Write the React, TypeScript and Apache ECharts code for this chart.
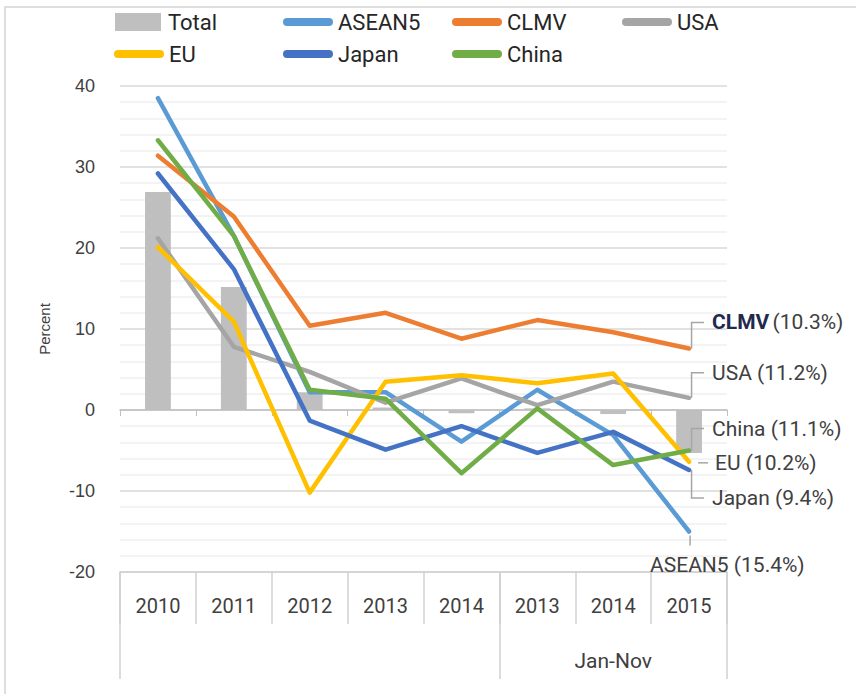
import React, { useEffect, useRef } from 'react';
import * as echarts from 'echarts';

// ---------- data ----------
const categories = ['2010', '2011', '2012', '2013', '2014', '2013', '2014', '2015'];
const groupLabel = 'Jan-Nov';
const groupBounds = [0, 5, 8];
const groupLabelAt = [6.5];
const yTicks = [-20, -10, 0, 10, 20, 30, 40];

const total = [26.9, 15.2, 2.2, 0.3, -0.4, 0.2, -0.5, -5.3];
const asean5 = [38.5, 21.5, 2.2, 2.2, -3.9, 2.5, -3.1, -15.0];
const clmv = [31.4, 23.9, 10.4, 12.0, 8.8, 11.1, 9.6, 7.6];
const usa = [21.2, 7.8, 4.7, 0.9, 3.9, 0.6, 3.5, 1.5];
const eu = [20.1, 10.9, -10.2, 3.5, 4.3, 3.3, 4.5, -6.4];
const japan = [29.2, 17.4, -1.3, -4.9, -2.0, -5.3, -2.7, -7.4];
const china = [33.3, 21.5, 2.5, 1.4, -7.8, 0.2, -6.8, -5.0];

const growthShares = ['15.4%', '10.3%', '11.2%', '10.2%', '9.4%', '11.1%'];

// ---------- styling ----------
const FONT = 'Roboto, "Noto Sans", sans-serif';
const ARIAL = '"Liberation Sans", Arial, sans-serif';
const TEXT = '#404040';

const lineDefs = [
  { name: 'ASEAN5', data: asean5, color: '#5b9bd5', growth: growthShares[0], offset: [-44, 33], leader: 'down', bold: false },
  { name: 'CLMV', data: clmv, color: '#ed7d31', growth: growthShares[1], offset: [18, -26], leader: 'elbow', bold: true },
  { name: 'USA', data: usa, color: '#a5a5a5', growth: growthShares[2], offset: [18, -25], leader: 'elbow', bold: false },
  { name: 'EU', data: eu, color: '#ffc000', growth: growthShares[3], offset: [21, 1], leader: 'flat', bold: false },
  { name: 'Japan', data: japan, color: '#4472c4', growth: growthShares[4], offset: [18, 28], leader: 'elbow', bold: false },
  { name: 'China', data: china, color: '#70ad47', growth: growthShares[5], offset: [18, -22], leader: 'elbow', bold: false },
];

const LINE_ICON = 'path://M4,0H46A4,4 0 0 1 46,8H4A4,4 0 0 1 4,0Z';
const RECT_ICON = 'path://M0,0H46V18H0Z';

const legendPlaces: { name: string; left: number; top: number; icon: string }[] = [
  { name: 'Total', left: 115, top: 11, icon: RECT_ICON },
  { name: 'ASEAN5', left: 283, top: 11, icon: LINE_ICON },
  { name: 'CLMV', left: 452, top: 11, icon: LINE_ICON },
  { name: 'USA', left: 622, top: 11, icon: LINE_ICON },
  { name: 'EU', left: 114, top: 43, icon: LINE_ICON },
  { name: 'Japan', left: 283, top: 43, icon: LINE_ICON },
  { name: 'China', left: 452, top: 43, icon: LINE_ICON },
];

const frame = {
  id: 'frame',
  type: 'rect',
  silent: true,
  z: -10,
  shape: { x: 5, y: 7, width: 1000, height: 1000 },
  style: { fill: 'none', stroke: '#d4d4d4', lineWidth: 1.5 },
};

export default function App() {
  const ref = useRef<HTMLDivElement>(null);

  useEffect(() => {
    if (!ref.current) return;
    const chart = echarts.init(ref.current, null, { renderer: 'svg' });

    const option: any = {
      animation: false,
      backgroundColor: '#ffffff',
      grid: { left: 120, right: 129, top: 86, bottom: 122, outerBoundsMode: 'none' },
      legend: legendPlaces.map((l) => ({
        data: [{ name: l.name, icon: l.icon }],
        left: l.left,
        top: l.top,
        itemWidth: 50,
        itemHeight: 18,
        selectedMode: false,
        padding: 0,
        textStyle: { fontFamily: FONT, fontSize: 22, color: '#262626' },
      })),
      xAxis: [
        {
          type: 'category',
          data: categories,
          axisLine: { onZero: true, lineStyle: { color: '#bfbfbf', width: 1.5 } },
          axisTick: { show: true, interval: 0, length: 6, lineStyle: { color: '#bfbfbf' } },
          axisLabel: { show: false },
          splitLine: { show: false },
        },
        {
          type: 'category',
          data: categories,
          position: 'bottom',
          axisLine: { onZero: false, lineStyle: { color: '#d0d0d0', width: 1.5 } },
          axisTick: { show: true, interval: 0, length: 52, lineStyle: { color: '#d0d0d0', width: 1.5 } },
          axisLabel: { interval: 0, margin: 24, fontFamily: FONT, fontSize: 20, color: TEXT },
          splitLine: { show: false },
        },
        {
          type: 'value',
          min: 0,
          max: categories.length,
          position: 'bottom',
          axisLine: { show: false, onZero: false },
          axisTick: { show: true, customValues: groupBounds, length: 107, lineStyle: { color: '#d0d0d0', width: 1.5 } },
          axisLabel: {
            customValues: groupLabelAt,
            formatter: () => groupLabel,
            margin: 78,
            fontFamily: FONT,
            fontSize: 21,
            color: TEXT,
          },
          splitLine: { show: false },
        },
      ],
      yAxis: {
        type: 'value',
        min: yTicks[0],
        max: yTicks[yTicks.length - 1],
        interval: yTicks[1] - yTicks[0],
        name: 'Percent',
        nameLocation: 'middle',
        nameGap: 68,
        nameTextStyle: { fontFamily: ARIAL, fontSize: 15, color: TEXT },
        axisLine: { show: false },
        axisTick: { show: false },
        axisLabel: { margin: 25, fontFamily: ARIAL, fontSize: 18, color: TEXT },
        splitLine: { lineStyle: { color: '#d9d9d9', width: 1.5 } },
        minorTick: { show: false, splitNumber: 5 },
        minorSplitLine: { show: true, lineStyle: { color: '#efefef', width: 1.5 } },
      },
      series: [
        {
          name: 'Total',
          type: 'bar',
          data: total,
          barWidth: '34%',
          itemStyle: { color: '#bfbfbf' },
          z: 1,
        },
        ...lineDefs.map((d) => ({
          name: d.name,
          type: 'line',
          data: d.data,
          color: d.color,
          showSymbol: false,
          symbol: 'none',
          lineStyle: { width: 4.5, color: d.color, cap: 'round', join: 'round' },
          z: 3,
          endLabel: {
            show: true,
            distance: 5,
            offset: d.offset,
            formatter: () =>
              d.bold ? `{b|${d.name}} {n|(${d.growth})}` : `{n|${d.name} (${d.growth})}`,
            rich: {
              b: { fontFamily: FONT, fontSize: 21, fontWeight: 'bold', color: '#1f2a4d' },
              n: { fontFamily: FONT, fontSize: 21, color: TEXT },
            },
          },
        })),
      ],
      graphic: [frame],
    };

    chart.setOption(option);

    const leaders: any[] = lineDefs.map((d, i) => {
      const last = d.data.length - 1;
      const [px, py] = chart.convertToPixel({ gridIndex: 0 }, [last, d.data[last]]) as number[];
      const ly = py + d.offset[1];
      let pts: number[][];
      if (d.leader === 'elbow') {
        pts = [[px + 2.5, py], [px + 2.5, ly], [px + 15, ly]];
      } else if (d.leader === 'flat') {
        pts = [[px + 9, ly], [px + 19, ly]];
      } else {
        pts = [[px + 1, py + 4], [px + 1, py + 14]];
      }
      return {
        id: 'leader' + i,
        type: 'polyline',
        silent: true,
        z: 10,
        shape: { points: pts },
        style: { stroke: '#a6a6a6', lineWidth: 1.5, fill: 'none' },
      };
    });
    chart.setOption({ graphic: [frame, ...leaders] });

    return () => chart.dispose();
  }, []);

  return (
    <div
      ref={ref}
      style={{ position: 'absolute', left: 0, top: 0, width: 856, height: 694, background: '#fff' }}
    />
  );
}
